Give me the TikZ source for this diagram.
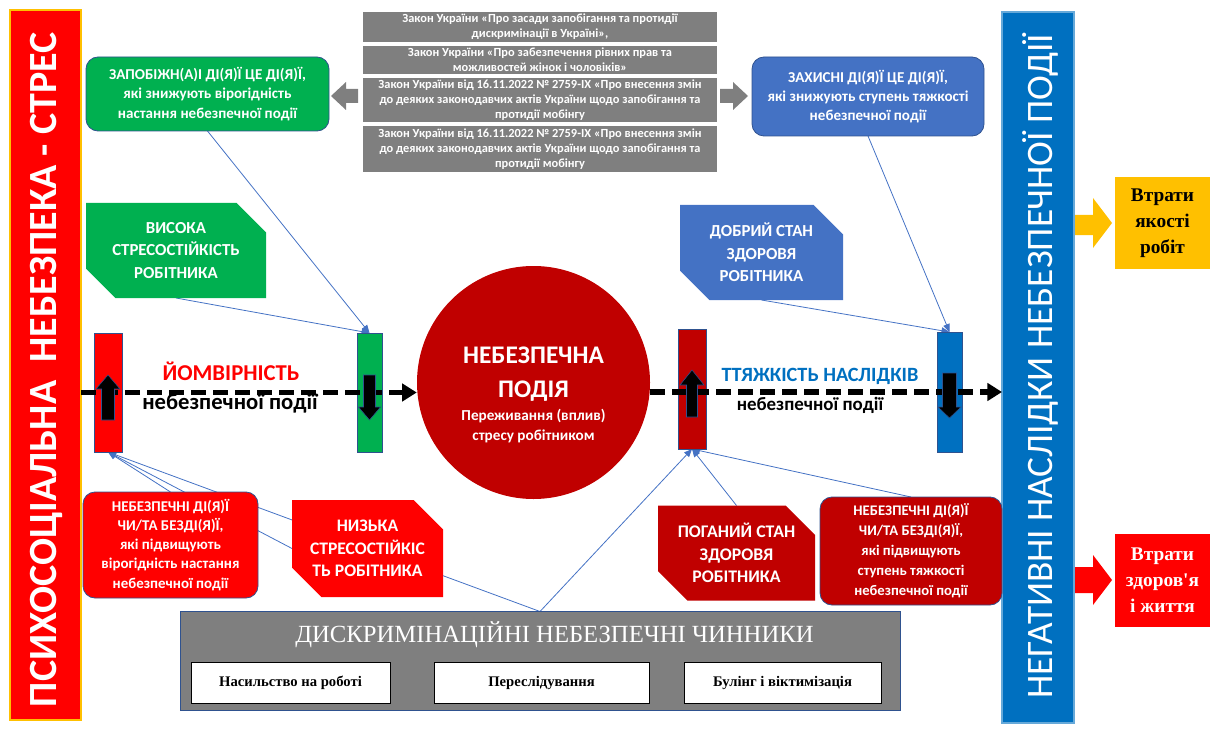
\documentclass[tikz,border=0pt]{standalone}
\usepackage{fontspec}
\setmainfont{Carlito}
\newfontfamily\tnr{Liberation Serif}
\usetikzlibrary{arrows.meta,shapes.misc,calc}
\definecolor{cred}{HTML}{FF0000}
\definecolor{cdred}{HTML}{C00000}
\definecolor{cgreen}{HTML}{00B050}
\definecolor{cblue}{HTML}{4472C4}
\definecolor{cbar}{HTML}{0070C0}
\definecolor{cgray}{HTML}{7F7F7F}
\definecolor{corange}{HTML}{FFC000}
\definecolor{cedge}{HTML}{2F528F}
\definecolor{cline}{HTML}{4472C4}
\pgfdeclarelayer{bg}
\pgfsetlayers{bg,main}
\newcommand\fs[2]{\fontsize{#1}{#2}\selectfont}
\begin{document}
\begin{tikzpicture}[x=0.75pt,y=-0.75pt,
  box/.style={inner sep=0pt, outer sep=0pt, align=center, text=white},
  sz/.style 2 args={minimum width=#1*0.75pt, minimum height=#2*0.75pt},
  rbox/.style={box, rounded corners=9pt, draw=cedge, line width=0.6pt},
  snip/.style={box, chamfered rectangle, chamfered rectangle xsep=11pt, chamfered rectangle ysep=11pt,
     chamfered rectangle corners={north east,south west}},
  law/.style={box, fill=cgray, draw=white, line width=0.8pt, font=\bfseries\fs{9.3}{11.3}, sz={356}{#1}},
  bar/.style={box, draw=cedge, line width=0.5pt},
  conn/.style={draw=cline, line width=0.6pt, -{Triangle[length=6pt,width=5pt]}},
  dashline/.style={line width=3.8pt, dash pattern=on 11pt off 5.5pt, -{Triangle[length=11pt,width=13pt]}},
  blk/.style={fill=black, draw=cedge, line width=0.4pt},
  inner/.style={box, fill=white, draw=black, line width=0.7pt, text=black, font=\tnr\bfseries\fs{11}{13}, sz={#1}{41}},
]
\useasboundingbox (0,0) rectangle (1210,731);

% side bars
\node[box, fill=cred, draw=corange, line width=1pt, sz={71}{710}] (psy) at (45.5,365) {};
\node[box, rotate=90, font=\bfseries\fs{30}{33}] (psyt) at (46,370) {ПСИХОСОЦІАЛЬНА\ \ НЕБЕЗПЕКА - СТРЕС};
\node[box, fill=cbar, draw=cbar!60, line width=0.8pt, sz={72}{711}] (neg) at (1038,367.5) {};
\node[box, rotate=90, font=\fs{28}{31}] (negt) at (1040,366.5) {НЕГАТИВНІ НАСЛІДКИ НЕБЕЗПЕЧНОЇ ПОДІЇ};

% laws
\node[law=32] (law1) at (540,27) {Закон України «Про засади запобігання та протидії\\дискримінації в Україні»,};
\node[law=30] (law2) at (540,60) {Закон України «Про забезпечення рівних прав та\\можливостей жінок і чоловіків»};
\node[law=46] (law3) at (540,100) {Закон України від 16.11.2022 № 2759-IX «Про внесення змін\\до деяких законодавчих актів України щодо запобігання та\\протидії мобінгу};
\node[law=48] (law4) at (540,149) {Закон України від 16.11.2022 № 2759-IX «Про внесення змін\\до деяких законодавчих актів України щодо запобігання та\\протидії мобінгу};
\fill[cgray] (331,96) -- (346,82) -- (346,89) -- (358,89) -- (358,103) -- (346,103) -- (346,110) -- cycle;
\fill[cgray] (748,96) -- (733,82) -- (733,89) -- (720,89) -- (720,103) -- (733,103) -- (733,110) -- cycle;

% top boxes
\node[rbox, fill=cgreen, sz={243}{74}, font=\bfseries\fs{11.3}{14.4}] (prev) at (207.5,94)
  {ЗАПОБІЖН(А)І ДІ(Я)Ї ЦЕ ДІ(Я)Ї,\\які знижують вірогідність\\настання небезпечної події};
\node[rbox, fill=cblue, sz={232}{79}, font=\bfseries\fs{11.3}{14.4}] (prot) at (868,96.5)
  {ЗАХИСНІ ДІ(Я)Ї ЦЕ ДІ(Я)Ї,\\які знижують ступень тяжкості\\небезпечної події};
\node[snip, fill=cgreen, sz={180}{95}, font=\bfseries\fs{12.6}{17}] (high) at (176,250.5)
  {ВИСОКА\\СТРЕСОСТІЙКІСТЬ\\РОБІТНИКА};
\node[snip, fill=cblue, sz={163}{95}, font=\bfseries\fs{12.6}{17}] (good) at (761.5,252.5)
  {ДОБРИЙ СТАН\\ЗДОРОВЯ\\РОБІТНИКА};

% event
\node[circle, fill=cdred, inner sep=0pt, minimum size=233*0.75pt] (event) at (533.5,382.5) {};
\node[box, font=\bfseries\fs{19}{25}] (eventt) at (533.5,374) {НЕБЕЗПЕЧНА\\ПОДІЯ};
\node[box, font=\bfseries\fs{11.4}{15.5}] (events) at (533.5,426) {Переживання (вплив)\\стресу робітником};

% bars
\node[bar, fill=cred, sz={28}{119}] (rbar) at (108,392.5) {};
\node[bar, fill=cgreen, sz={25}{119}] (gbar) at (369.5,392.5) {};
\node[bar, fill=cdred, sz={28}{120}] (dbar) at (692,389) {};
\node[bar, fill=cbar, sz={25}{120}] (bbar) at (949.5,392) {};

% dashed arrows
\draw[dashline] (psy.east |- rbar) -- (event.west |- rbar);
\draw[dashline] (event.east |- bbar) -- (neg.west |- bbar);

% black arrows in bars
\path[blk] (108,375) -- (120,389) -- (114.5,389) -- (114.5,420) -- (101.5,420) -- (101.5,389) -- (96,389) -- cycle;
\path[blk] (369.5,420) -- (380.5,407) -- (375.5,407) -- (375.5,375) -- (363.5,375) -- (363.5,407) -- (358.5,407) -- cycle;
\path[blk] (692,370) -- (704,385) -- (697.5,385) -- (697.5,417) -- (686.5,417) -- (686.5,385) -- (680,385) -- cycle;
\path[blk] (949.5,418) -- (961,407) -- (956.5,407) -- (956.5,373) -- (942.5,373) -- (942.5,407) -- (938,407) -- cycle;

% labels on the axis
\node[box, text=cred, font=\bfseries\fs{17}{20}] (prob) at (231,371) {ЙОМВІРНІСТЬ};
\node[box, text=black, font=\bfseries\fs{17}{20}] (probs) at (230,403) {небезпечної події};
\node[box, text=cbar, font=\bfseries\fs{15.2}{18}] (sev) at (820,376) {ТТЯЖКІСТЬ НАСЛІДКІВ};
\node[box, text=black, font=\bfseries\fs{14.2}{16}] (sevs) at (810,405) {небезпечної події};

% bottom boxes
\node[rbox, fill=cred, sz={175}{106}, font=\bfseries\fs{11.2}{14.3}] (unsl) at (170.5,545)
  {НЕБЕЗПЕЧНІ ДІ(Я)Ї\\ЧИ/ТА БЕЗДІ(Я)Ї,\\які підвищують\\вірогідність настання\\небезпечної події};
\node[snip, fill=cred, sz={151}{97}, font=\bfseries\fs{13.2}{17}] (low) at (367.5,548.5)
  {НИЗЬКА\\СТРЕСОСТІЙКІС\\ТЬ РОБІТНИКА};
\node[snip, fill=cdred, sz={157}{95}, font=\bfseries\fs{13.3}{17}] (poor) at (736.5,553)
  {ПОГАНИЙ СТАН\\ЗДОРОВЯ\\РОБІТНИКА};
\node[rbox, fill=cdred, sz={182}{108}, font=\bfseries\fs{11}{15}] (unsr) at (911,551)
  {НЕБЕЗПЕЧНІ ДІ(Я)Ї\\ЧИ/ТА БЕЗДІ(Я)Ї,\\які підвищують\\ступень тяжкості\\небезпечної події};

% discrimination block
\node[box, fill=cgray, draw=cedge, line width=0.6pt, sz={720}{99}] (disc) at (540,661) {};
\node[box, font=\tnr\fs{18.5}{21}] (disct) at (554.5,635) {ДИСКРИМІНАЦІЙНІ НЕБЕЗПЕЧНІ ЧИННИКИ};
\node[inner=199] (d1) at (290.5,682.5) {Насильство на роботі};
\node[inner=215] (d2) at (541.5,682.5) {Переслідування};
\node[inner=197] (d3) at (782.5,682.5) {Булінг і віктимізація};

% outcomes
\fill[corange] (1075,215) -- (1093,215) -- (1093,198) -- (1112,223) -- (1093,248) -- (1093,235) -- (1075,235) -- cycle;
\fill[cred] (1075,567) -- (1093,567) -- (1093,555) -- (1112,580) -- (1093,605) -- (1093,593) -- (1075,593) -- cycle;
\node[box, fill=corange, text=black, sz={95}{92}, font=\tnr\bfseries\fs{14.5}{19.5}] (out1) at (1162.5,223) {Втрати\\якості\\робіт};
\node[box, fill=cred, sz={95}{93}, font=\tnr\bfseries\fs{14.5}{19.5}] (out2) at (1162.5,580.5) {Втрати\\здоров'я\\і життя};

% connectors
\begin{pgfonlayer}{bg}
\draw[conn] (prev.south) -- (gbar.north);
\draw[conn] (high.south) -- (gbar.north);
\draw[conn] (prot.south) -- (bbar.north);
\draw[conn] (good.south) -- (bbar.north);
\draw[conn] (unsl.north) -- (rbar.south);
\draw[conn] (low.west) -- (rbar.south);
\draw[conn] (disc.north) -- (rbar.south);
\draw[conn] (poor.north) -- (dbar.south);
\draw[conn] (unsr.north) -- (dbar.south);
\draw[conn] (disc.north) -- (dbar.south);
\end{pgfonlayer}
\end{tikzpicture}
\end{document}
